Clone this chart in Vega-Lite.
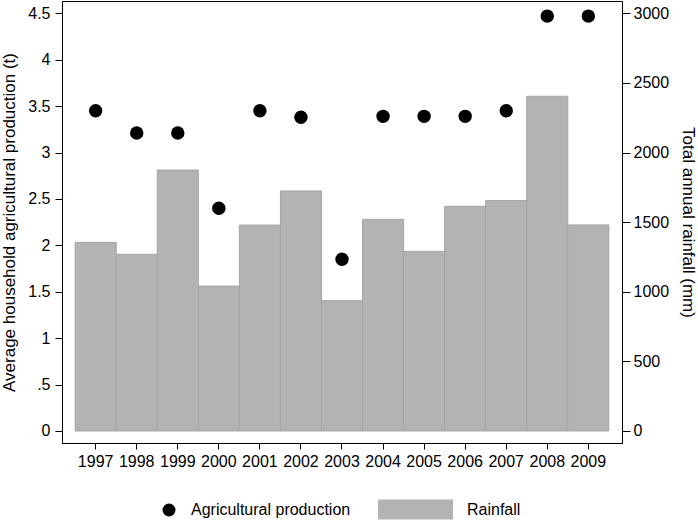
{
  "$schema": "https://vega.github.io/schema/vega-lite/v6.json",
  "autosize": "none",
  "width": 560,
  "height": 442,
  "padding": {"left": 62, "top": 1, "right": 76, "bottom": 85},
  "background": "white",
  "config": {
    "view": {"stroke": "black", "strokeWidth": 1},
    "font": "Liberation Sans",
    "axis": {
      "grid": false,
      "domainColor": "black",
      "tickColor": "black",
      "labelColor": "black",
      "titleColor": "black",
      "labelFont": "Liberation Sans",
      "titleFont": "Liberation Sans",
      "labelFontSize": 16,
      "titleFontSize": 17,
      "titleFontWeight": "normal"
    },
    "legend": {
      "labelFont": "Liberation Sans",
      "labelFontSize": 16,
      "labelColor": "black",
      "padding": 0
    }
  },
  "data": {
    "values": [
      {"year": "1997", "production": 3.45, "rainfall": 1355},
      {"year": "1998", "production": 3.21, "rainfall": 1269},
      {"year": "1999", "production": 3.21, "rainfall": 1874},
      {"year": "2000", "production": 2.40, "rainfall": 1041},
      {"year": "2001", "production": 3.45, "rainfall": 1479},
      {"year": "2002", "production": 3.38, "rainfall": 1724},
      {"year": "2003", "production": 1.85, "rainfall": 936},
      {"year": "2004", "production": 3.39, "rainfall": 1520},
      {"year": "2005", "production": 3.39, "rainfall": 1290},
      {"year": "2006", "production": 3.39, "rainfall": 1614},
      {"year": "2007", "production": 3.45, "rainfall": 1655},
      {"year": "2008", "production": 4.47, "rainfall": 2404},
      {"year": "2009", "production": 4.47, "rainfall": 1480}
    ]
  },
  "encoding": {
    "x": {
      "field": "year",
      "type": "ordinal",
      "scale": {"paddingInner": 0, "paddingOuter": 0.32},
      "axis": {
        "title": null,
        "labelAngle": 0,
        "tickSize": 6,
        "labelPadding": 4,
        "domainColor": "black"
      }
    }
  },
  "layer": [
    {
      "mark": {"type": "bar", "stroke": "#a4a4a4", "strokeWidth": 1},
      "encoding": {
        "y": {
          "field": "rainfall",
          "type": "quantitative",
          "scale": {"domain": [-86.2, 3088.3], "nice": false, "zero": false},
          "axis": {
            "orient": "right",
            "title": "Total annual rainfall (mm)",
            "values": [0, 500, 1000, 1500, 2000, 2500, 3000],
            "format": "d",
            "tickSize": 8,
            "labelPadding": 3,
            "titlePadding": 10,
            "labelBaseline": "middle"
          }
        },
        "fill": {
          "datum": "Rainfall",
          "type": "nominal",
          "scale": {"range": ["#b3b3b3"]},
          "legend": {
            "title": null,
            "orient": "none",
            "legendX": 316,
            "legendY": 471,
            "symbolType": "M-1,-0.2667H1V0.2667H-1Z",
            "symbolSize": 5625,
            "symbolStrokeWidth": 0,
            "labelOffset": 14
          }
        }
      }
    },
    {
      "mark": {"type": "point", "filled": true, "size": 180, "color": "black", "opacity": 1},
      "encoding": {
        "y": {
          "field": "production",
          "type": "quantitative",
          "scale": {"domain": [-0.1293, 4.6326], "nice": false, "zero": false},
          "axis": {
            "orient": "left",
            "title": "Average household agricultural production (t)",
            "values": [0, 0.5, 1, 1.5, 2, 2.5, 3, 3.5, 4, 4.5],
            "labelExpr": "datum.value == 0.5 ? '.5' : format(datum.value, '~g')",
            "tickSize": 7,
            "labelPadding": 5,
            "titlePadding": 9
          }
        },
        "shape": {
          "datum": "Agricultural production",
          "type": "nominal",
          "scale": {"range": ["circle"]},
          "legend": {
            "title": null,
            "orient": "none",
            "legendX": 99,
            "legendY": 501,
            "symbolSize": 169,
            "symbolFillColor": "black",
            "symbolStrokeColor": "black",
            "symbolStrokeWidth": 0,
            "symbolOpacity": 1,
            "labelOffset": 14
          }
        }
      }
    }
  ],
  "resolve": {"scale": {"y": "independent", "fill": "independent", "shape": "independent"}, "axis": {"y": "independent"}}
}
